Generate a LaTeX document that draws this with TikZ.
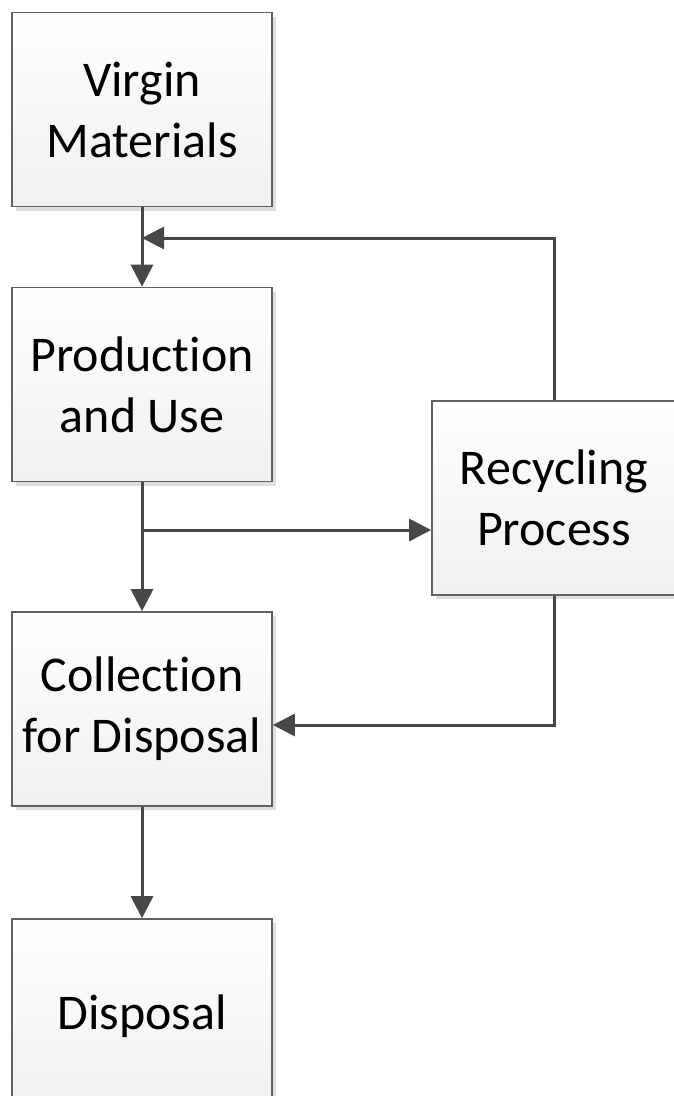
\documentclass[tikz,border=0pt]{standalone}
\usepackage{fontspec}
\setmainfont{Carlito}[RawFeature={-liga;-dlig;-calt;-clig}]
\usetikzlibrary{arrows.meta,shadows}
\begin{document}
\begin{tikzpicture}[x=1pt,y=-1pt,
  box/.style={draw=black!62, line width=1.6pt, top color=white, bottom color=black!6,
    minimum width=260pt, minimum height=194pt, align=center, inner sep=0pt,
    font=\fontsize{50}{61}\selectfont,
    drop shadow={shadow xshift=4pt, shadow yshift=-4pt, fill=black!13, opacity=1}},
  flow/.style={draw=black!72, line width=3pt, -{Triangle[length=22pt,width=22pt]}}]
  \useasboundingbox (0,0) rectangle (673,1096);

  % process boxes
  \node[box] (virgin) at (142,109.5) {Virgin\\Materials};
  \node[box] (prod) at (142,384.5) {Production\\and Use};
  \node[box] (coll) at (142,709) {Collection\\for Disposal};
  \node[box] (disp) at (142,1016) {Disposal};
  \node[box, minimum width=244pt] (recy) at (554,498) {Recycling\\Process};

  % junction points on the main flow line
  \coordinate (fb) at (142,238);
  \coordinate (br) at (142,530);

  % flows
  \draw[flow] (virgin) -- (prod);
  \draw[flow] (recy.north) |- (fb);
  \draw[flow] (prod) -- (coll);
  \draw[flow] (br) -- (recy.west |- br);
  \draw[flow] (recy.south) |- ([yshift=-16pt]coll.east);
  \draw[flow] (coll) -- (disp);
\end{tikzpicture}
\end{document}
